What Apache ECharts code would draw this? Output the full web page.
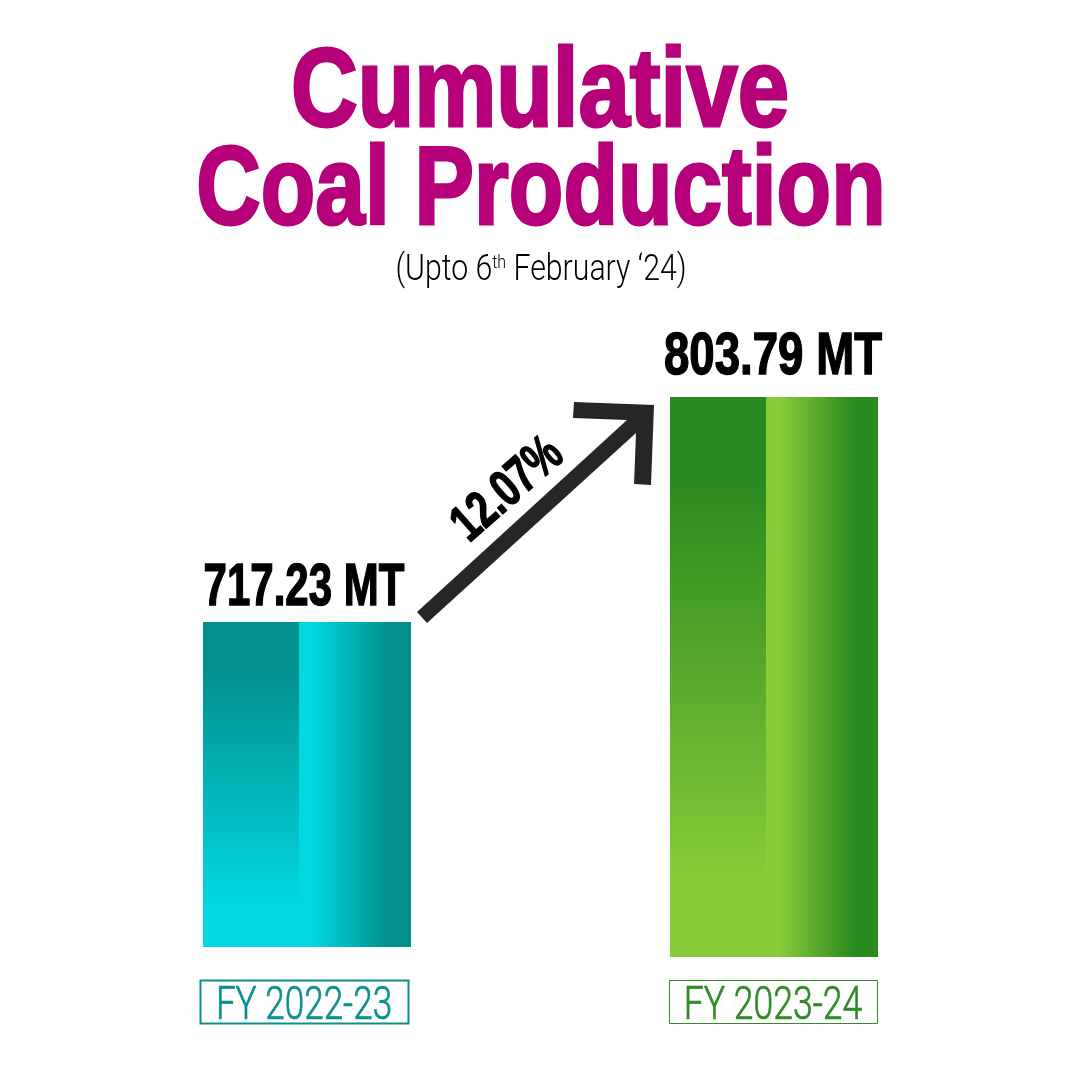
<!DOCTYPE html>
<html>
<head>
<meta charset="utf-8">
<title>Cumulative Coal Production</title>
<script src="https://cdn.jsdelivr.net/npm/echarts@6/dist/echarts.min.js"></script>
<style>
html, body { margin: 0; padding: 0; background: #fff; }
#chart { width: 1080px; height: 1080px; }
</style>
</head>
<body>
<div id="chart"></div>
<script>
var categories = ['FY 2022-23', 'FY 2023-24'];
var production = [717.23, 803.79];
// the bars do not stand on one baseline in the picture
var barBase = [592.2, 588.35];
var growthLabel = '12.07%';
var titleLines = ['Cumulative', 'Coal Production'];

var axisMin = 588.35;
var axisMax = 803.79;
var heavy = '"Liberation Sans", sans-serif';
var light = 'Roboto, "Liberation Sans", sans-serif';

var barColors = [
    { dark: '#02908f', light: '#02d8e0', text: '#0e8f8f', border: 2, labelScale: 0.70, labelGap: 4, catScale: 0.747 },
    { dark: '#2b8a1f', light: '#88cc38', text: '#2e8b25', border: 1, labelScale: 0.76, labelGap: 10, catScale: 0.757 }
];

var chart = echarts.init(document.getElementById('chart'));

function grad(x2, y2, stops) {
    return new echarts.graphic.LinearGradient(0, 0, x2, y2, stops);
}

function renderBar(params, api) {
    var i = api.value(0);
    var c = barColors[i];
    var top = api.coord([i, api.value(2)]);
    var bottom = api.coord([i, api.value(1)]);
    var left = top[0] - 104;
    var nudge = i === 0 ? -3 : -1;
    return {
        type: 'group',
        children: [
            {
                type: 'rect',
                shape: { x: left, y: top[1], width: 96, height: bottom[1] - top[1] },
                style: {
                    fill: grad(0, 1, [
                        { offset: 0, color: c.dark },
                        { offset: 0.15, color: c.dark },
                        { offset: 0.87, color: c.light },
                        { offset: 1, color: c.light }
                    ])
                }
            },
            {
                type: 'rect',
                shape: { x: left + 96, y: top[1], width: 112, height: bottom[1] - top[1] },
                style: {
                    fill: grad(1, 0, [
                        { offset: 0, color: c.light },
                        { offset: 0.12, color: c.light },
                        { offset: 0.78, color: c.dark },
                        { offset: 1, color: c.dark }
                    ])
                }
            },
            {
                type: 'text',
                x: top[0] + nudge,
                y: top[1] - c.labelGap,
                scaleX: c.labelScale,
                style: {
                    text: production[i].toFixed(2) + ' MT',
                    fontFamily: heavy,
                    fontWeight: 'bold',
                    fontSize: 60,
                    fill: '#000',
                    stroke: '#000',
                    lineWidth: 1.5,
                    align: 'center',
                    verticalAlign: 'bottom'
                }
            },
            {
                type: 'rect',
                shape: { x: left + nudge + 0.5, y: 980.5, width: 208, height: 43 },
                style: { fill: 'none', stroke: c.text, lineWidth: c.border }
            },
            {
                type: 'text',
                x: top[0] + nudge,
                y: 1007,
                scaleX: c.catScale,
                style: {
                    text: categories[i],
                    fontFamily: light,
                    fontWeight: 300,
                    fontSize: 47,
                    fill: c.text,
                    stroke: c.text,
                    lineWidth: 0.7,
                    align: 'center',
                    verticalAlign: 'middle'
                }
            }
        ]
    };
}

var barData = categories.map(function (name, i) {
    return [i, barBase[i], production[i]];
});

chart.setOption({
    animation: false,
    backgroundColor: '#fff',
    grid: { left: 73.5, width: 934, top: 397, height: 560 },
    xAxis: { type: 'category', data: categories, show: false },
    yAxis: { type: 'value', min: axisMin, max: axisMax, show: false },
    series: [{
        type: 'custom',
        renderItem: renderBar,
        data: barData,
        clip: false,
        encode: { x: 0, y: 2 }
    }],
    graphic: [
        {
            type: 'text', x: 540, y: 95, scaleX: 0.825,
            style: {
                text: titleLines[0], fontFamily: heavy, fontWeight: 'bold', fontSize: 112,
                fill: '#b5007a', stroke: '#b5007a', lineWidth: 3,
                align: 'center', verticalAlign: 'middle'
            }
        },
        {
            type: 'text', x: 541, y: 193, scaleX: 0.797,
            style: {
                text: titleLines[1], fontFamily: heavy, fontWeight: 'bold', fontSize: 112,
                fill: '#b5007a', stroke: '#b5007a', lineWidth: 3,
                align: 'center', verticalAlign: 'middle'
            }
        },
        {
            type: 'text', x: 541, y: 271, scaleX: 0.84,
            style: {
                text: '(Upto 6{sup|th} February \u201824)',
                fontFamily: light, fontWeight: 300, fontSize: 36, fill: '#000',
                align: 'center', verticalAlign: 'middle',
                rich: {
                    sup: { fontFamily: light, fontWeight: 300, fontSize: 19, fill: '#000', padding: [0, 0, 16, 0] }
                }
            }
        },
        {
            type: 'polygon',
            shape: {
                points: [[417, 612], [627, 420], [573, 418], [574, 402], [654, 405],
                    [651, 485], [634, 484], [636, 433], [427, 623]]
            },
            style: { fill: '#262626' }
        },
        {
            type: 'text', x: 508, y: 490, rotation: 0.72, scaleX: 0.73,
            style: {
                text: growthLabel, fontFamily: heavy, fontWeight: 'bold', fontSize: 52,
                fill: '#000', stroke: '#000', lineWidth: 1.5,
                align: 'center', verticalAlign: 'middle'
            }
        }
    ]
});
</script>
</body>
</html>
